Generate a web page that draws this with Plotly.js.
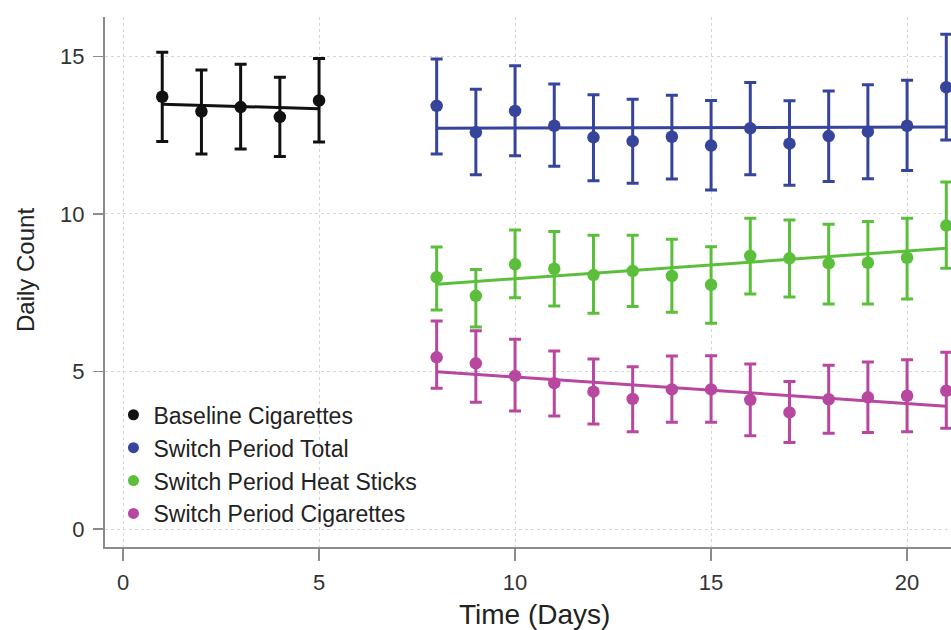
<!DOCTYPE html>
<html>
<head>
<meta charset="utf-8">
<script src="https://cdn.plot.ly/plotly-3.0.1.min.js"></script>
<style>html,body{margin:0;padding:0;background:#fff;}#chart{width:951px;height:630px;}</style>
</head>
<body>
<div id="chart"></div>
<script>
// ---- data ----
const baseDays = [1, 2, 3, 4, 5];
const baseMean = [13.72, 13.25, 13.39, 13.08, 13.60];
const baseHi   = [15.13, 14.57, 14.75, 14.34, 14.93];
const baseLo   = [12.30, 11.90, 12.06, 11.82, 12.28];
const baseTrendDays = [1, 5];
const baseTrend = [13.48, 13.34];

const switchDays = [8, 9, 10, 11, 12, 13, 14, 15, 16, 17, 18, 19, 20, 21];
const totalMean = [13.43, 12.59, 13.27, 12.80, 12.43, 12.31, 12.45, 12.17, 12.72, 12.23, 12.47, 12.61, 12.80, 14.02];
const totalHi   = [14.92, 13.96, 14.70, 14.12, 13.78, 13.64, 13.77, 13.60, 14.17, 13.59, 13.90, 14.10, 14.24, 15.70];
const totalLo   = [11.90, 11.24, 11.85, 11.51, 11.05, 10.97, 11.11, 10.76, 11.24, 10.91, 11.03, 11.12, 11.38, 12.35];

const heatMean = [7.99, 7.40, 8.40, 8.26, 8.06, 8.19, 8.03, 7.75, 8.67, 8.59, 8.43, 8.45, 8.61, 9.63];
const heatHi   = [8.95, 8.24, 9.49, 9.44, 9.32, 9.32, 9.20, 8.96, 9.86, 9.81, 9.67, 9.76, 9.86, 11.01];
const heatLo   = [6.95, 6.41, 7.34, 7.08, 6.85, 7.06, 6.88, 6.53, 7.46, 7.36, 7.14, 7.14, 7.30, 8.28];

const cigMean = [5.45, 5.26, 4.86, 4.63, 4.36, 4.13, 4.43, 4.43, 4.10, 3.70, 4.12, 4.18, 4.23, 4.39];
const cigHi   = [6.60, 6.29, 6.02, 5.65, 5.40, 5.15, 5.49, 5.50, 5.24, 4.68, 5.20, 5.30, 5.37, 5.61];
const cigLo   = [4.47, 4.02, 3.75, 3.59, 3.33, 3.09, 3.39, 3.39, 2.96, 2.75, 3.04, 3.06, 3.09, 3.20];

const switchTrendDays = [8, 21];
const totalTrend = [12.72, 12.76];
const heatTrend  = [7.77, 8.91];
const cigTrend   = [4.99, 3.90];

const seriesNames = ['Baseline Cigarettes', 'Switch Period Total', 'Switch Period Heat Sticks', 'Switch Period Cigarettes'];
const seriesColors = ['#111111', '#36449c', '#5bbf3b', '#b8479f'];

const xTicks = [0, 5, 10, 15, 20];
const yTicks = [0, 5, 10, 15];
const xTitle = 'Time (Days)';
const yTitle = 'Daily Count';

// ---- build traces ----
function pointTrace(x, m, hi, lo, i) {
  return {
    x: x, y: m, type: 'scatter', mode: 'markers',
    name: seriesNames[i], showlegend: false,
    marker: {color: seriesColors[i], size: 12.5},
    error_y: {
      type: 'data', symmetric: false,
      array: hi.map((v, k) => v - m[k]),
      arrayminus: m.map((v, k) => v - lo[k]),
      color: seriesColors[i], thickness: 3, width: 6
    },
    hoverinfo: 'x+y'
  };
}
function trendTrace(x, y, i) {
  return {x: x, y: y, type: 'scatter', mode: 'lines', showlegend: false,
    line: {color: seriesColors[i], width: 3}, hoverinfo: 'skip'};
}
function legendTrace(i) {
  return {x: [null], y: [null], type: 'scatter', mode: 'markers',
    name: seriesNames[i], showlegend: true,
    marker: {color: seriesColors[i], size: 11}};
}

const traces = [
  trendTrace(baseTrendDays, baseTrend, 0),
  trendTrace(switchTrendDays, totalTrend, 1),
  trendTrace(switchTrendDays, heatTrend, 2),
  trendTrace(switchTrendDays, cigTrend, 3),
  pointTrace(baseDays, baseMean, baseHi, baseLo, 0),
  pointTrace(switchDays, totalMean, totalHi, totalLo, 1),
  pointTrace(switchDays, heatMean, heatHi, heatLo, 2),
  pointTrace(switchDays, cigMean, cigHi, cigLo, 3),
  legendTrace(0), legendTrace(1), legendTrace(2), legendTrace(3)
];

const fontFam = 'Arial, "Liberation Sans", Helvetica, sans-serif';
const layout = {
  width: 951, height: 630,
  margin: {l: 105, r: 0, t: 17, b: 83},
  paper_bgcolor: '#ffffff', plot_bgcolor: '#ffffff',
  font: {family: fontFam, color: '#333333', size: 22},
  showlegend: true,
  legend: {
    x: 0.010, y: 0.29, xanchor: 'left', yanchor: 'top',
    bgcolor: 'rgba(255,255,255,0)', borderwidth: 0,
    font: {family: fontFam, size: 23, color: '#222222'},
    traceorder: 'normal', itemwidth: 30
  },
  xaxis: {
    range: [-0.46, 21.12], tickvals: xTicks, ticktext: xTicks.map(String),
    showline: true, linecolor: '#8c8c8c', linewidth: 2,
    ticks: 'outside', ticklen: 12, tickwidth: 1.5, tickcolor: '#8c8c8c',
    ticklabelstandoff: 3,
    showgrid: true, gridcolor: '#d6d6d6', gridwidth: 1, griddash: 'dot',
    zeroline: false, mirror: false,
    tickfont: {size: 22, color: '#333333'}
  },
  yaxis: {
    range: [-0.57, 16.25], tickvals: yTicks, ticktext: yTicks.map(String),
    showline: true, linecolor: '#8c8c8c', linewidth: 2,
    ticks: 'outside', ticklen: 10, tickwidth: 1.5, tickcolor: '#8c8c8c',
    ticklabelstandoff: 4,
    showgrid: true, gridcolor: '#d6d6d6', gridwidth: 1, griddash: 'dot',
    zeroline: false, mirror: false,
    tickfont: {size: 22, color: '#333333'}
  },
  annotations: [
    {text: xTitle, xref: 'paper', yref: 'paper', x: 0.508, y: -0.128,
     xanchor: 'center', yanchor: 'middle', showarrow: false,
     font: {family: fontFam, size: 28, color: '#222222'}},
    {text: yTitle, xref: 'paper', yref: 'paper', x: -0.0946, y: 0.5226,
     xanchor: 'center', yanchor: 'middle', showarrow: false, textangle: -90,
     font: {family: fontFam, size: 24, color: '#222222'}}
  ]
};

Plotly.newPlot('chart', traces, layout, {displayModeBar: false, staticPlot: true});
</script>
</body>
</html>
